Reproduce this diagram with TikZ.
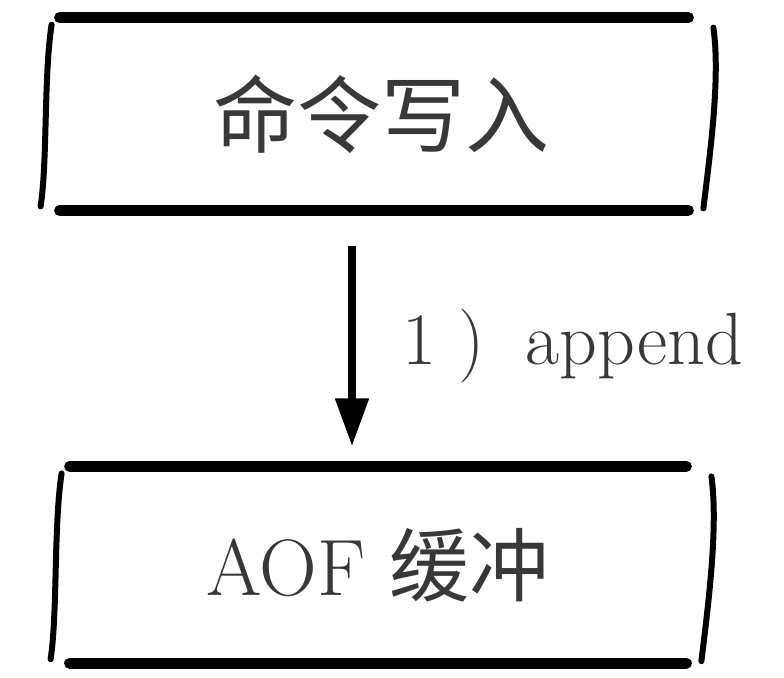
\documentclass[tikz,border=0pt]{standalone}
\usepackage{fontspec}
\newfontfamily\cjk{Noto Sans CJK SC}
\usetikzlibrary{positioning,arrows.meta}

\tikzset{
  stage/.style={minimum width=314pt, minimum height=96pt, inner sep=0pt,
    text=black!78, font=\fontsize{40}{40}\selectfont},
  rule/.style={line width=5.5pt, line cap=round},
  side/.style={line width=3pt, line cap=round},
  flow/.style={line width=4pt, -{Triangle[length=24pt,width=16pt]}},
}

\begin{document}
\begin{tikzpicture}[x=0.5pt,y=-0.5pt]
 \useasboundingbox (0,0) rectangle (784,678);
 \node [stage, font=\fontsize{42}{42}\selectfont] (cmd) at (374,114) {\hspace{8pt}\cjk 命令写入};
 \node [stage, below=128pt of cmd, xshift=2pt, minimum width=308pt, minimum height=98pt] (buf) {AOF {\cjk 缓冲}};
 % hand drawn frame: thick rules, bent sides
 \foreach \b in {cmd,buf} {
  \draw [rule] (\b.north west) -- (\b.north east);
  \draw [rule] (\b.south west) -- (\b.south east);
  \draw [side] ([shift={(-8,7)}]\b.north west)
    .. controls ([shift={(-16,60)}]\b.north west) and ([shift={(-12,-50)}]\b.south west)
    .. ([shift={(-19,-4)}]\b.south west);
  \draw [side] ([shift={(25,10)}]\b.north east)
    .. controls ([shift={(32,60)}]\b.north east) and ([shift={(22,-60)}]\b.south east)
    .. ([shift={(15,-2)}]\b.south east);
 }
 \draw [flow, shorten <=18pt, shorten >=10pt] ([xshift=-11pt]cmd.south) -- ([xshift=-11pt]cmd.south |- buf.north)
   node [midway, right=20pt, yshift=-4pt, text=black!78, font=\fontsize{37}{37}\selectfont] (step1) {1\hspace{0.3em})\hspace{0.55em}append};
\end{tikzpicture}
\end{document}
